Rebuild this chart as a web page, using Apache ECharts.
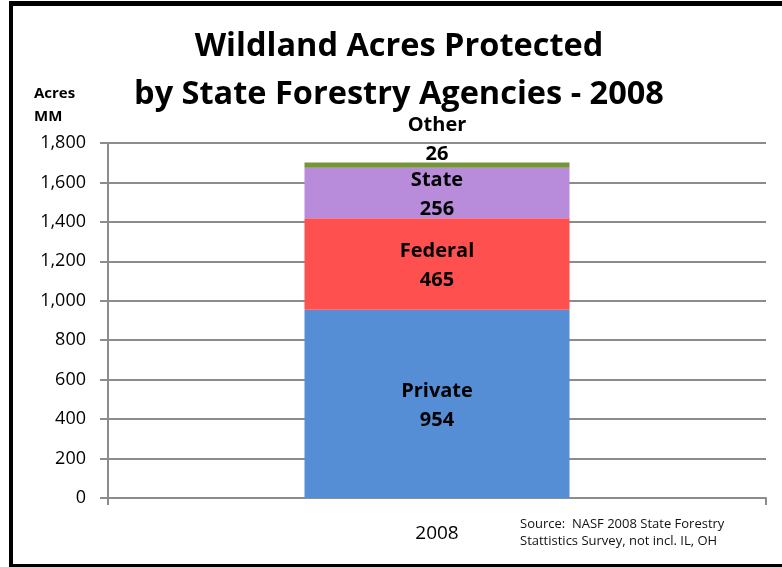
<!DOCTYPE html>
<html>
<head>
<meta charset="utf-8">
<script src="https://cdn.jsdelivr.net/npm/echarts@6/dist/echarts.min.js"></script>
<style>
  html, body { margin: 0; padding: 0; background: #fff; }
  #chart { width: 782px; height: 567px; }
</style>
</head>
<body>
<div id="chart"></div>
<script>
// Wildland acres protected by state forestry agencies, 2008 (millions of acres)
const categories = ['2008'];
const ownershipNames = ['Private', 'Federal', 'State', 'Other'];
const privateAcres = [954];
const federalAcres = [465];
const stateAcres = [256];
const otherAcres = [26];
const yTicks = [0, 200, 400, 600, 800, 1000, 1200, 1400, 1600, 1800];

const seriesValues = [privateAcres, federalAcres, stateAcres, otherAcres];
const colors = ['#558ED5', '#FF5050', '#B98CDB', '#77933C'];
const FONT = '"Open Sans", "Noto Sans", sans-serif';

const chart = echarts.init(document.getElementById('chart'), null, { renderer: 'canvas' });

const lastIndex = ownershipNames.length - 1;
const series = ownershipNames.map((name, i) => ({
  name,
  type: 'bar',
  stack: 'total',
  barWidth: 265,
  data: seriesValues[i],
  itemStyle: { color: colors[i] },
  label: {
    show: true,
    position: i === lastIndex ? 'top' : 'inside',
    distance: 4,
    offset: i === lastIndex ? [0, 10] : [0, 2],
    formatter: p => p.seriesName + '\n' + p.value,
    fontFamily: FONT,
    fontWeight: 'bold',
    fontSize: 20,
    lineHeight: 29,
    color: '#000'
  }
}));

chart.setOption({
  animation: false,
  backgroundColor: '#fff',
  grid: { left: 108, right: 16, top: 143, bottom: 69 },
  xAxis: {
    type: 'category',
    data: categories,
    axisLine: { lineStyle: { color: '#8c8c8c', width: 2 } },
    axisTick: { show: true, length: 7, lineStyle: { color: '#8c8c8c', width: 2 } },
    axisLabel: { margin: 26, fontFamily: FONT, fontSize: 19, color: '#000' }
  },
  yAxis: {
    type: 'value',
    min: yTicks[0],
    max: yTicks[yTicks.length - 1],
    interval: 200,
    axisLine: { show: true, lineStyle: { color: '#8c8c8c', width: 2 } },
    axisTick: { show: true, length: 8, lineStyle: { color: '#8c8c8c', width: 2 } },
    splitLine: { lineStyle: { color: '#8c8c8c', width: 2 } },
    axisLabel: {
      margin: 22,
      fontFamily: FONT,
      fontSize: 18,
      color: '#000',
      formatter: v => v.toLocaleString('en-US')
    }
  },
  series,
  graphic: [
    // outer frame
    { type: 'rect', shape: { x: 9, y: 1, width: 4, height: 566 }, style: { fill: '#000' } },
    { type: 'rect', shape: { x: 9, y: 1, width: 773, height: 5 }, style: { fill: '#000' } },
    { type: 'rect', shape: { x: 9, y: 564, width: 773, height: 3 }, style: { fill: '#000' } },
    {
      type: 'text',
      style: {
        x: 399, y: 23,
        text: 'Wildland Acres Protected\nby State Forestry Agencies - 2008',
        fontFamily: FONT, fontWeight: 'bold', fontSize: 32.5, lineHeight: 48,
        fill: '#000', align: 'center', verticalAlign: 'top'
      }
    },
    {
      type: 'text', left: 34, top: 82,
      style: { text: 'Acres\nMM', fontFamily: FONT, fontWeight: 'bold', fontSize: 15, lineHeight: 23, fill: '#000' }
    },
    {
      type: 'text', left: 520, top: 516,
      style: {
        text: 'Source:  NASF 2008 State Forestry\nStattistics Survey, not incl. IL, OH',
        fontFamily: FONT, fontSize: 13, lineHeight: 17, fill: '#111'
      }
    }
  ]
});
</script>
</body>
</html>
